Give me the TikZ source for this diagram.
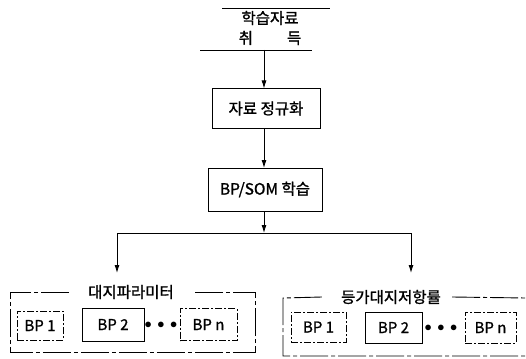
\documentclass[tikz,border=0pt]{standalone}
\usepackage{fontspec}
\setmainfont{Noto Sans CJK KR}[FakeBold=1.2]
\usetikzlibrary{arrows.meta}
\begin{document}
\begin{tikzpicture}[x=1pt,y=-1pt,
  ln/.style={line width=0.9pt},
  arr/.style={line width=0.9pt,-{Latex[length=8pt,width=5pt]}},
  proc/.style={draw,line width=0.9pt,minimum width=#1,minimum height=40pt,inner sep=0pt,font=\fontsize{15.5}{17}\selectfont},
  frame/.style={line width=0.9pt,dash pattern=on 28pt off 3pt on 4pt off 3pt},
  dbox/.style={draw,line width=0.8pt,dash pattern=on 7pt off 2pt on 2pt off 2pt,inner sep=0pt,font=\fontsize{15}{17}\selectfont},
  sbox/.style={draw,line width=0.8pt,inner sep=0pt,font=\fontsize{15}{17}\selectfont},
  ttl/.style={font=\fontsize{15.5}{17}\selectfont,inner sep=1pt},
  dots/.style={font=\fontsize{15}{17}\selectfont,inner sep=0pt}]
\useasboundingbox (0,0) rectangle (526,358);
% acquisition
\coordinate (a1) at (222,8); \coordinate (a2) at (330,8);
\coordinate (b1) at (200,50); \coordinate (b2) at (312,50);
\draw[ln] (a1) -- (a2);
\draw[ln] (b1) -- (b2);
\node[ttl] (acq1) at (270,18) {학습자료};
\node[ttl] (acq2) at (270,38) {취\hspace{34pt}득};
\coordinate (src) at (264,50);
% process boxes
\node[proc=108pt] (n1) at (266,108.5) {자료 정규화};
\node[proc=114pt,minimum height=43pt] (n2) at (265,189.5) {BP/SOM 학습};
\coordinate (n1t) at (264,88.5); \coordinate (n1b) at (264,128.5);
\coordinate (n2t) at (264,168); \coordinate (n2b) at (264,211);
\draw[arr] (src) -- (n1t);
\draw[arr] (n1b) -- (n2t);
\coordinate (j) at (264,233);
\draw[arr] (n2b) -- (j);
\coordinate (jl) at (117,233); \coordinate (jr) at (411,233);
\coordinate (el) at (117,273); \coordinate (er) at (411,273);
\draw[ln] (jl) -- (jr);
\draw[arr] (jl) -- (el);
\draw[arr] (jr) -- (er);
% left group
\node[ttl] (g1) at (131,292) {대지파라미터};
\draw[frame] (g1.west) ++(-18pt,0) -- (10,292) -- (10,352) -- (255,352) -- (255,292) -- ([xshift=20pt]g1.east);
\node[dbox,minimum width=46pt,minimum height=29pt] (l1) at (40,325.5) {BP 1};
\node[sbox,minimum width=62pt,minimum height=33pt] (l2) at (113,324.5) {BP 2};
\node[dots] (ld) at (161,325) {$\bullet\,\bullet\,\bullet$};
\node[dbox,minimum width=57pt,minimum height=32pt] (ln) at (208.5,324.5) {BP n};
% right group
\node[ttl] (g2) at (391,297) {등가대지저항률};
\draw[frame] (g2.west) ++(-18pt,0) -- (283,298) -- (283,356) -- (526,356);
\draw[frame] ([xshift=10pt]g2.east) -- (526,298);
\node[dbox,minimum width=55pt,minimum height=30pt] (r1) at (318.5,327) {BP 1};
\node[sbox,minimum width=57pt,minimum height=31pt] (r2) at (393.5,327.5) {BP 2};
\node[dots] (rd) at (441,328) {$\bullet\,\bullet\,\bullet$};
\node[dbox,minimum width=51pt,minimum height=31pt] (rn) at (490.5,327.5) {BP n};
\end{tikzpicture}
\end{document}
